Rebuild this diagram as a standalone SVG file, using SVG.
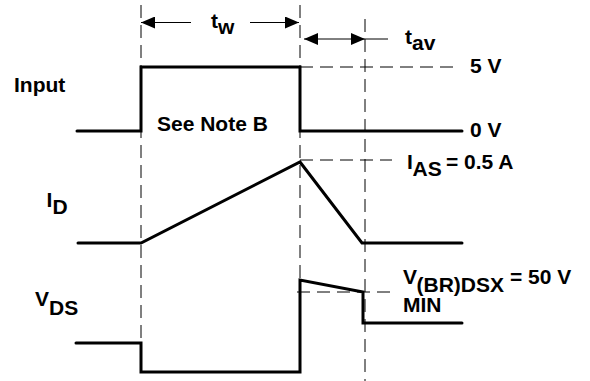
<svg xmlns="http://www.w3.org/2000/svg" width="590" height="381" viewBox="0 0 590 381">
<defs>
<style>
.wave{fill:none;stroke:#000;stroke-width:3;stroke-linejoin:miter;stroke-linecap:round}
.dash{fill:none;stroke:#000;stroke-width:1;stroke-dasharray:13,7}
.dim{fill:none;stroke:#000;stroke-width:1}
text{font-family:"Liberation Sans",Arial,sans-serif;font-weight:bold;font-size:21px;fill:#000}
</style>
<marker id="ah" markerUnits="userSpaceOnUse" markerWidth="14" markerHeight="12" refX="14" refY="6" orient="auto-start-reverse">
<path d="M0,0 L14,6 L0,12 z" fill="#000"/>
</marker>
</defs>
<rect width="590" height="381" fill="#fff"/>
<g id="guides">
<line class="dash" x1="141" y1="5" x2="141" y2="343"/>
<line class="dash" x1="300" y1="5" x2="300" y2="280"/>
<line class="dash" x1="365" y1="19" x2="365" y2="381"/>
<line class="dash" x1="300" y1="67" x2="457" y2="67"/>
<line class="dash" x1="300" y1="160" x2="392" y2="160"/>
<line class="dash" x1="297" y1="292" x2="393" y2="292"/>
</g>
<g id="connectors">
<line class="dim" x1="191" y1="22.5" x2="141" y2="22.5" marker-end="url(#ah)"/>
<line class="dim" x1="250" y1="22.5" x2="299" y2="22.5" marker-end="url(#ah)"/>
<line class="dim" x1="304" y1="39" x2="365" y2="39" marker-start="url(#ah)" marker-end="url(#ah)"/>
<line class="dim" x1="365" y1="39" x2="388" y2="39"/>
</g>
<g id="input-wave"><path class="wave" d="M77,131 H141 V67 H300 V131 H462"/></g>
<g id="id-wave"><path class="wave" d="M78,243 H141 L300,162 L362,243 H462"/></g>
<g id="vds-wave"><path class="wave" d="M76,343 H141 V372 H300 V280 L363,292 V323 H462"/></g>
<g id="labels">
<text x="14" y="92">Input</text>
<text x="157" y="131">See Note B</text>
<text x="211" y="28">t<tspan x="218" y="34">w</tspan></text>
<text x="405" y="43.5">t<tspan x="412" y="49.5">av</tspan></text>
<text x="470" y="73">5 V</text>
<text x="470" y="137">0 V</text>
<text x="407" y="169">I<tspan x="412.5" y="176">AS</tspan><tspan x="446" y="169">= 0.5 A</tspan></text>
<text x="46.5" y="207">I<tspan x="52.5" y="213.5">D</tspan></text>
<text x="35" y="306">V<tspan x="49" y="315">DS</tspan></text>
<text x="403" y="283.5">V<tspan x="416.5" y="291.5">(BR)DSX</tspan><tspan x="510" y="283.5">= 50 V</tspan></text>
<text x="403" y="312">MIN</text>
</g>
</svg>
